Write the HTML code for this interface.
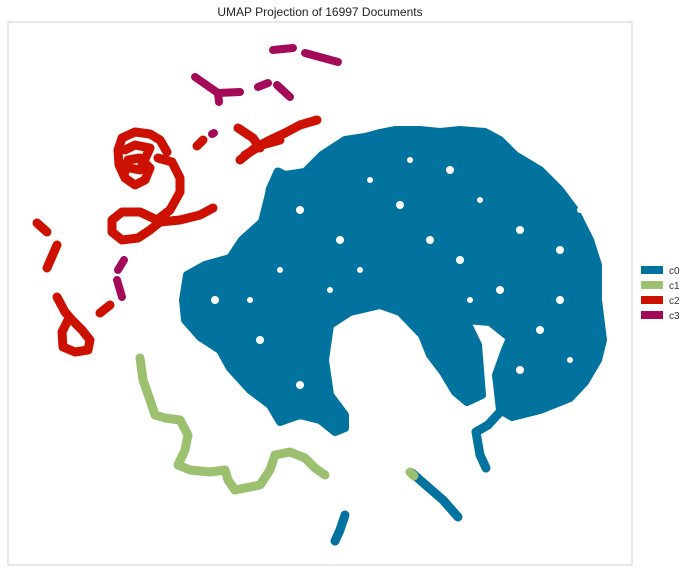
<!DOCTYPE html>
<html><head><meta charset="utf-8"><style>
body{margin:0;background:#fff;font-family:"Liberation Sans",sans-serif}
svg{display:block}
</style></head><body>
<svg id="chart" width="690" height="572">
<text x="320" y="16" text-anchor="middle" font-size="12" fill="#222">UMAP Projection of 16997 Documents</text>
<rect x="8" y="22" width="624" height="543" fill="#fff" stroke="#cfcfcf"/>
<g id="marks"></g>
<g>
<rect x="641" y="266" width="22" height="8" fill="#02729f"/><text x="669" y="274" font-size="10" fill="#333">c0</text>
<rect x="641" y="281" width="22" height="8" fill="#9bc06f"/><text x="669" y="289" font-size="10" fill="#333">c1</text>
<rect x="641" y="296" width="22" height="8" fill="#cc1100"/><text x="669" y="304" font-size="10" fill="#333">c2</text>
<rect x="641" y="311" width="22" height="8" fill="#a40a5a"/><text x="669" y="319" font-size="10" fill="#333">c3</text>
</g>
</svg>
<script>
// embedding coordinates
const c0Blob=[[183,300],[187,275],[205,265],[230,258],[242,240],[262,222],[270,190],[285,175],[305,172],[322,155],[345,140],[365,137],[380,133],[395,130],[420,130],[440,132],[460,130],[485,132],[500,140],[515,155],[540,170],[560,190],[575,210],[590,240],[598,265],[598,300],[603,340],[598,360],[585,382],[570,398],[540,410],[512,417],[500,410],[496,375],[505,350],[510,338],[490,322],[466,320],[478,345],[482,395],[467,402],[455,392],[443,372],[430,355],[422,335],[400,312],[380,305],[350,312],[330,325],[325,360],[330,395],[345,415],[345,428],[335,432],[320,420],[300,415],[280,422],[270,405],[250,390],[230,368],[220,350],[200,337],[185,320]];
const c0Holes=[[215,300,4],[300,210,4],[340,240,4],[400,205,4],[450,170,4],[520,230,4],[560,250,4],[460,260,4],[540,330,4],[520,370,4],[260,340,4],[300,385,4],[370,180,3],[430,240,4],[480,200,3],[560,300,4],[250,300,3],[330,290,3],[500,290,4],[580,210,3],[410,160,3],[360,270,3],[280,270,3],[470,300,3],[570,360,3]];
const c0Strokes=[[[500,412],[488,425],[476,432],[480,455],[486,468]],[[412,473],[428,487],[443,500],[458,517]],[[345,515],[340,530],[335,541]],[[270,190],[278,172],[290,178]]];
const c1Strokes=[[[140,358],[143,380],[150,400],[155,415],[165,418],[180,420],[188,435],[185,450],[178,465],[190,470],[210,472],[225,470],[228,480],[235,490],[260,485],[270,470],[275,455],[290,452],[305,458],[315,468],[325,475]],[[410,472],[414,476]]];
const c2Strokes=[[[167,152],[160,140],[150,134],[135,132],[122,138],[118,150],[119,165],[125,178],[135,185],[145,180],[150,168],[140,158],[128,160],[125,172]],[[125,150],[135,145],[150,148],[140,170],[130,168]],[[158,158],[172,162],[180,178],[180,192],[170,210],[157,220],[140,212],[122,212],[112,220],[112,232],[122,240],[138,238],[150,230],[160,222],[180,220],[200,215],[213,208]],[[240,160],[255,148],[270,140],[285,133],[300,125],[317,120]],[[245,155],[262,145],[280,140]],[[238,128],[253,138],[260,148]],[[37,223],[47,232]],[[57,245],[47,268]],[[57,297],[65,312],[72,320],[82,330],[90,340],[88,350],[75,352],[63,347],[62,332],[68,320]],[[100,313],[110,305]],[[197,146],[203,140]]];
const c3Strokes=[[[273,50],[293,48]],[[305,53],[338,62]],[[195,77],[218,93],[240,92]],[[218,93],[219,102]],[[258,87],[268,83]],[[277,85],[290,97]],[[124,260],[118,270]],[[117,280],[122,297]],[[212,134],[214,133]]];
const xDomain=[8,632], yDomain=[22,565];
const xs=d=>8+(d-xDomain[0])/(xDomain[1]-xDomain[0])*624;
const ys=d=>22+(d-yDomain[0])/(yDomain[1]-yDomain[0])*543;
const NS="http://www.w3.org/2000/svg";
const g=document.getElementById('marks');
const blob=document.createElementNS(NS,'polygon');


blob.setAttribute('points',c0Blob.map(p=>xs(p[0])+','+ys(p[1])).join(' '));
blob.setAttribute('fill','#02729f');blob.setAttribute('stroke','#02729f');
blob.setAttribute('stroke-width','8');blob.setAttribute('stroke-linejoin','round');
g.appendChild(blob);
c0Holes.forEach(h=>{
 const c=document.createElementNS(NS,'circle');
 
 
 c.setAttribute('cx',xs(h[0]));c.setAttribute('cy',ys(h[1]));c.setAttribute('r',h[2]);
 c.setAttribute('fill','#fff');
 g.appendChild(c);
});
function draw(strokes,color,name,w){
 strokes.forEach(s=>{
  const pl=document.createElementNS(NS,'polyline');
  
  
  pl.setAttribute('points',s.map(p=>xs(p[0])+','+ys(p[1])).join(' '));
  pl.setAttribute('fill','none');pl.setAttribute('stroke',color);
  pl.setAttribute('stroke-width',w);pl.setAttribute('stroke-linecap','round');pl.setAttribute('stroke-linejoin','round');
  g.appendChild(pl);
 });
}
draw(c0Strokes,'#02729f','cluster-c0',9);
draw(c1Strokes,'#9bc06f','cluster-c1',9);
draw(c2Strokes,'#cc1100','cluster-c2',9);
draw(c3Strokes,'#a40a5a','cluster-c3',8);
</script>
</body></html>
